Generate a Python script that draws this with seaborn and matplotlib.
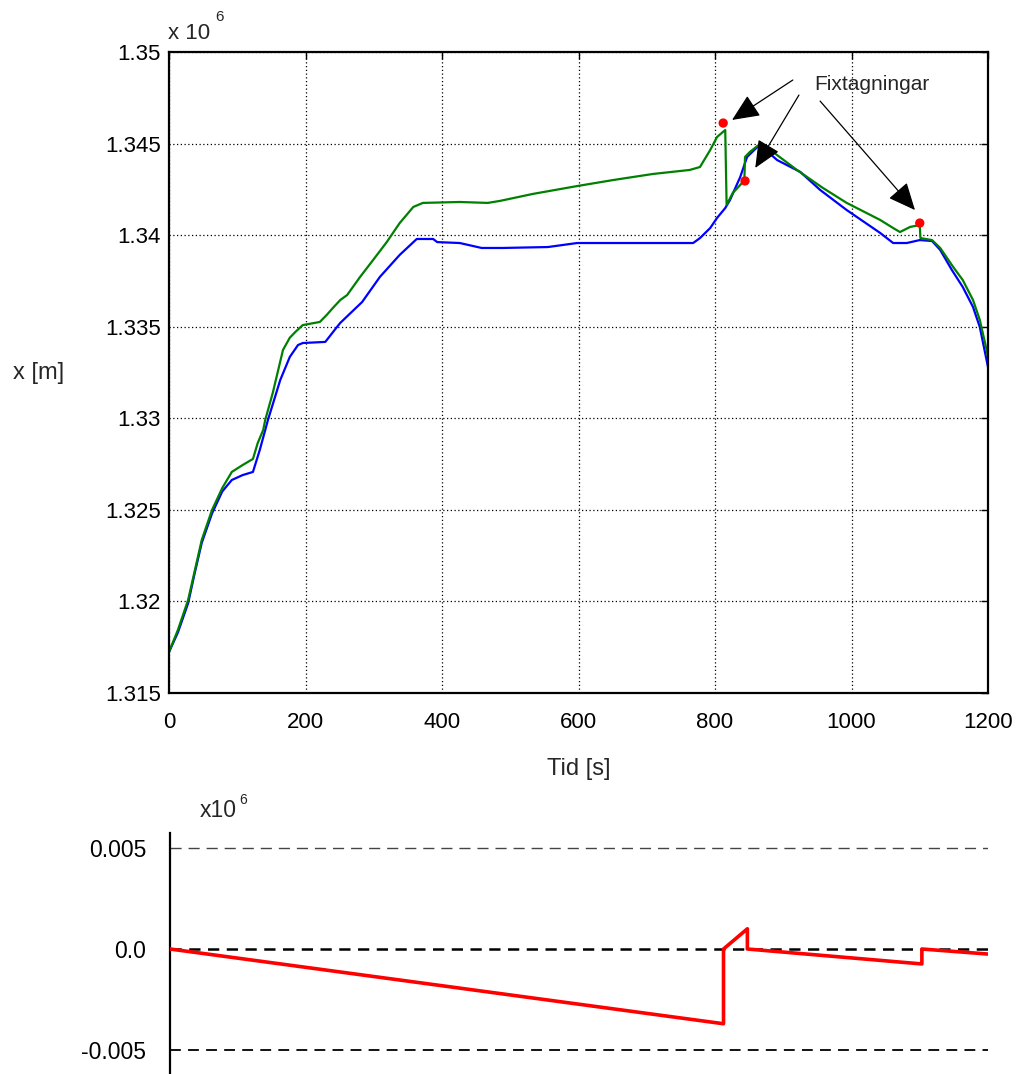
import numpy as np
import pandas as pd
import matplotlib
matplotlib.use("Agg")
import matplotlib.pyplot as plt
import seaborn as sns

# ---------------- data (values in units of 1e6 m) ----------------
green_t = [0, 13, 28, 38, 48, 63, 78, 92, 108, 123, 130, 138, 141, 152, 167, 177,
           185, 196, 221, 231, 240, 251, 261, 280, 299, 319, 338, 358, 372, 426,
           467, 485, 533, 598, 651, 709, 763, 778, 793, 803, 815, 817, 826, 837,
           843, 844, 851, 866, 881, 920, 958, 993, 1042, 1061, 1071, 1086, 1100,
           1101, 1118, 1130, 1149, 1163, 1178, 1188, 1198, 1200]
green_x = [1.31724, 1.31844, 1.32008, 1.32172, 1.32336, 1.32499, 1.32619, 1.32707,
           1.32745, 1.32778, 1.32865, 1.32936, 1.32991, 1.33138, 1.33373, 1.33440,
           1.33471, 1.33509, 1.33526, 1.33564, 1.33602, 1.33646, 1.33673, 1.33772,
           1.33864, 1.33962, 1.34066, 1.34154, 1.34176, 1.34181, 1.34176, 1.34187,
           1.34225, 1.34268, 1.34301, 1.34334, 1.34356, 1.34372, 1.34465, 1.34536,
           1.34574, 1.34165, 1.34230, 1.34274, 1.34301, 1.34427, 1.34454, 1.34498,
           1.34465, 1.34356, 1.34258, 1.34176, 1.34083, 1.34039, 1.34017, 1.34045,
           1.34055, 1.33984, 1.33973, 1.33930, 1.33826, 1.33755, 1.33646, 1.33537,
           1.33373, 1.33335]

blue_t = [0, 13, 28, 38, 48, 63, 78, 92, 108, 123, 133, 141, 145, 163, 177, 189,
          196, 229, 246, 251, 283, 309, 338, 363, 387, 393, 426, 458, 489, 555,
          598, 768, 778, 793, 803, 815, 822, 837, 847, 862, 866, 891, 925, 954,
          993, 1042, 1061, 1081, 1100, 1118, 1130, 1147, 1163, 1178, 1188, 1200]
blue_x = [1.31724, 1.31830, 1.31990, 1.32160, 1.32320, 1.32480, 1.32600, 1.32663,
          1.32690, 1.32707, 1.32827, 1.32936, 1.32991, 1.33209, 1.33335, 1.33400,
          1.33411, 1.33417, 1.33498, 1.33521, 1.33635, 1.33772, 1.33892, 1.33979,
          1.33979, 1.33962, 1.33957, 1.33930, 1.33930, 1.33935, 1.33957, 1.33957,
          1.33984, 1.34039, 1.34094, 1.34148, 1.34192, 1.34318, 1.34427, 1.34481,
          1.34492, 1.34410, 1.34345, 1.34247, 1.34137, 1.34012, 1.33957, 1.33957,
          1.33973, 1.33968, 1.33919, 1.33810, 1.33717, 1.33608, 1.33498, 1.33280]

fix_t = [812, 844, 1100]
fix_x = [1.34612, 1.34296, 1.34066]

err_t = [0, 812, 812, 847, 847, 1103, 1103, 1200]
err_x = [0.0, -0.0037, 0.0, 0.001, 0.0, -0.00074, 0.0, -0.00025]

x_ticks = [0, 200, 400, 600, 800, 1000, 1200]
y_ticks = [1.315, 1.32, 1.325, 1.33, 1.335, 1.34, 1.345, 1.35]
y_tick_labels = ["1.315", "1.32", "1.325", "1.33", "1.335", "1.34", "1.345", "1.35"]
err_ticks = [-0.005, 0.0, 0.005]
err_tick_labels = ["-0.005", "0.0", "0.005"]

# ---------------- style ----------------
sns.set_theme(style="white")
plt.rcParams["font.family"] = ["Liberation Sans", "DejaVu Sans"]

W, H = 1018, 1074
fig = plt.figure(figsize=(W / 100, H / 100), dpi=100)

def fx(px):
    return px / W

def fy(py):
    return 1 - py / H

# ---------------- top axes ----------------
ax = fig.add_axes([fx(169), fy(693), fx(988) - fx(169), fy(52) - fy(693)])
g_df = pd.DataFrame({"t": green_t, "x": green_x})
b_df = pd.DataFrame({"t": blue_t, "x": blue_x})
sns.lineplot(data=b_df, x="t", y="x", ax=ax, color="#0000ff", lw=1.6,
             sort=False, estimator=None)
sns.lineplot(data=g_df, x="t", y="x", ax=ax, color="#008000", lw=1.6,
             sort=False, estimator=None)
f_df = pd.DataFrame({"t": fix_t, "x": fix_x})
sns.scatterplot(data=f_df, x="t", y="x", ax=ax, color="#ff0000", s=45,
                edgecolor="none", zorder=5)

ax.set_xlim(0, 1200)
ax.set_ylim(1.315, 1.35)
ax.set_xticks(x_ticks)
ax.set_xticklabels([str(v) for v in x_ticks])
ax.set_yticks(y_ticks)
ax.set_yticklabels(y_tick_labels)
ax.tick_params(direction="in", length=5, width=1, top=True, right=True,
               labelsize=16, colors="black")
ax.tick_params(axis="y", pad=6)
ax.tick_params(axis="x", pad=14)
ax.grid(True, color="black", linestyle=(0, (1, 2.0)), lw=0.9)
for s in ax.spines.values():
    s.set_color("black")
    s.set_linewidth(1.6)
ax.set_xlabel("Tid [s]", fontsize=17, labelpad=18)
ax.set_ylabel("x [m]", fontsize=17, rotation=0, va="center", ha="center")
ax.yaxis.set_label_coords((39 - 169) / 819, 0.5)

fig.text(fx(168), fy(39), "x 10", fontsize=16, ha="left", va="baseline")
fig.text(fx(215), fy(21), "6", fontsize=11, ha="left", va="baseline")

# annotations
ax.text(1030, 1.34825, "Fixtagningar", fontsize=15, ha="center", va="center")
arrow_starts = [(914, 1.34847), (923, 1.34765), (954, 1.34732)]
arrow_tips = [(825, 1.34629), (859, 1.34367), (1093, 1.34137)]
for st, tp in zip(arrow_starts, arrow_tips):
    ax.annotate("", xy=tp, xytext=st,
                arrowprops=dict(arrowstyle="-|>,head_length=0.85,head_width=0.38",
                                mutation_scale=20, color="black", lw=0.9,
                                shrinkA=0, shrinkB=0))

# ---------------- bottom axes ----------------
ax2 = fig.add_axes([fx(170), 0.0, fx(988) - fx(170), fy(833)])
e_df = pd.DataFrame({"t": err_t, "e": err_x})
sns.lineplot(data=e_df, x="t", y="e", ax=ax2, color="#ff0000", lw=2.6,
             sort=False, estimator=None, zorder=4)
ax2.set_xlim(0, 1200)
ax2.set_ylim(-0.005 - 24 / 101 * 0.005, 0.005 + 15 / 101 * 0.005)
ax2.set_yticks(err_ticks)
ax2.set_yticklabels(err_tick_labels)
ax2.set_xticks([])
ax2.set_xlabel("")
ax2.set_ylabel("")
ax2.tick_params(axis="y", length=0, labelsize=16.5, pad=17, colors="black")
for side in ["top", "right", "bottom"]:
    ax2.spines[side].set_visible(False)
ax2.spines["left"].set_color("black")
ax2.spines["left"].set_linewidth(1.6)
ax2.set_facecolor("none")
for val in err_ticks:
    if val > 0:
        ax2.axhline(val, color="#444444", lw=1.0, ls=(0, (8, 5)), zorder=1)
    elif val == 0:
        ax2.axhline(val, color="black", lw=1.8, ls=(0, (4.5, 3)), zorder=1)
    else:
        ax2.axhline(val, color="black", lw=1.3, ls=(0, (6, 4)), zorder=1)

fig.text(fx(200), fy(817), "x10", fontsize=16.5, ha="left", va="baseline")
fig.text(fx(239), fy(804), "6", fontsize=10, ha="left", va="baseline")

fig.savefig("out.png", dpi=100)
